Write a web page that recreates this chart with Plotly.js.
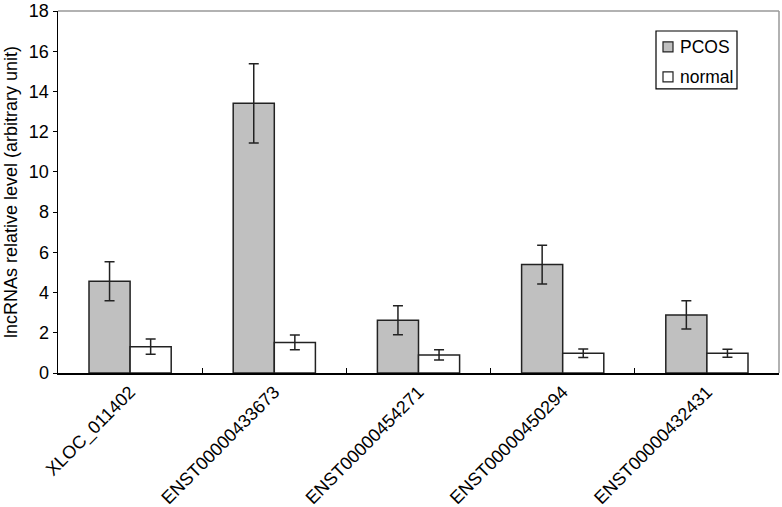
<!DOCTYPE html>
<html>
<head>
<meta charset="utf-8">
<script src="https://cdn.plot.ly/plotly-3.0.1.min.js"></script>
<style>html,body{margin:0;padding:0;background:#fff;}#chart{width:782px;height:507px;}</style>
</head>
<body>
<div id="chart"></div>
<script>
const categories = ["XLOC_011402", "ENST00000433673", "ENST00000454271", "ENST00000450294", "ENST00000432431"];
const pcosValues = [4.56, 13.41, 2.62, 5.39, 2.89];
const pcosErrors = [0.97, 1.97, 0.72, 0.96, 0.70];
const normalValues = [1.31, 1.52, 0.90, 0.98, 0.98];
const normalErrors = [0.38, 0.37, 0.25, 0.21, 0.20];
const yTicks = [0, 2, 4, 6, 8, 10, 12, 14, 16, 18];
const seriesNames = ["PCOS", "normal"];
const seriesColors = ["#c0c0c0", "#ffffff"];

const font = {family: "Liberation Sans, Arial, sans-serif", size: 18, color: "#000"};
const legendFont = {family: "Liberation Sans, Arial, sans-serif", size: 17.5, color: "#000"};

const traces = [
  {
    type: "bar", name: seriesNames[0], x: categories, y: pcosValues,
    marker: {color: seriesColors[0], line: {color: "#222", width: 1.5}},
    error_y: {type: "data", array: pcosErrors, visible: true, color: "#222", thickness: 1.5, width: 5}
  },
  {
    type: "bar", name: seriesNames[1], x: categories, y: normalValues,
    marker: {color: seriesColors[1], line: {color: "#222", width: 1.5}},
    error_y: {type: "data", array: normalErrors, visible: true, color: "#222", thickness: 1.5, width: 5}
  }
];

// plot area in pixels: x 58..779, y 11..373.3
const px = v => (v - 58) / 721;
const py = v => (373.3 - v) / 362.3;

const shapes = [
  {type: "line", xref: "paper", yref: "paper", x0: 0, x1: 1, y0: 1, y1: 1, line: {color: "#999", width: 1.5}, layer: "below"},
  {type: "line", xref: "paper", yref: "paper", x0: 1, x1: 1, y0: 0, y1: 1, line: {color: "#999", width: 1.5}, layer: "below"},
  // legend box
  {type: "rect", xref: "paper", yref: "paper", x0: px(656), x1: px(737), y0: py(89), y1: py(31), line: {color: "#000", width: 1.2}, fillcolor: "#fff", layer: "above"}
];
const annotations = [];
const legendRows = [47, 77];
seriesNames.forEach((name, i) => {
  const cy = legendRows[i];
  shapes.push({type: "rect", xref: "paper", yref: "paper", x0: px(663), x1: px(673), y0: py(cy + 5), y1: py(cy - 5),
    line: {color: "#222", width: 1.2}, fillcolor: seriesColors[i], layer: "above"});
  annotations.push({xref: "paper", yref: "paper", x: px(678), y: py(cy), xanchor: "left", yanchor: "middle",
    text: name, showarrow: false, font: legendFont});
});

const layout = {
  width: 782, height: 507,
  margin: {l: 58, r: 3, t: 11, b: 134},
  paper_bgcolor: "#fff", plot_bgcolor: "#fff",
  font: font,
  barmode: "group", bargap: 0.43, bargroupgap: 0,
  showlegend: false,
  xaxis: {
    type: "category", tickangle: -45, tickson: "boundaries",
    ticks: "inside", ticklen: 5, tickcolor: "#000",
    showline: true, linecolor: "#000", linewidth: 1.5,
    showgrid: false, zeroline: false, tickfont: font
  },
  yaxis: {
    range: [0, 18], tickvals: yTicks, ticks: "outside", ticklen: 4, tickcolor: "#000",
    showline: true, linecolor: "#000", linewidth: 1.5,
    showgrid: false, zeroline: false, tickfont: font,
    title: {text: "lncRNAs relative level (arbitrary unit)", font: font, standoff: 6}
  },
  shapes: shapes,
  annotations: annotations
};

Plotly.newPlot("chart", traces, layout, {displayModeBar: false, staticPlot: true});
</script>
</body>
</html>
